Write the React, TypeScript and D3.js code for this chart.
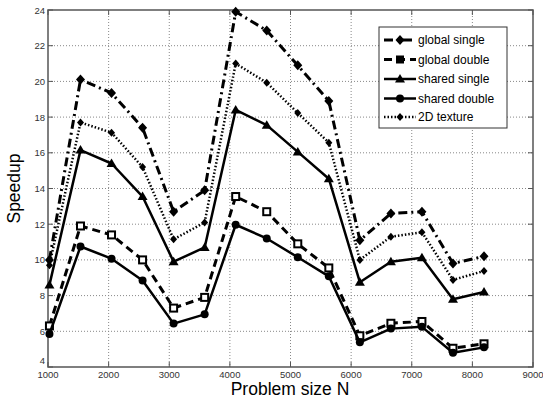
import React from "react";
import * as d3 from "d3";

const problemSizes = [1024, 1536, 2048, 2560, 3072, 3584, 4096, 4608, 5120, 5632, 6144, 6656, 7168, 7680, 8192];
const globalSingle = [10.0, 20.1, 19.35, 17.4, 12.7, 13.9, 23.9, 22.85, 20.9, 18.9, 11.1, 12.6, 12.7, 9.8, 10.2];
const globalDouble = [6.3, 11.9, 11.4, 10.0, 7.3, 7.9, 13.55, 12.7, 10.9, 9.55, 5.75, 6.45, 6.55, 5.05, 5.3];
const sharedSingle = [8.6, 16.15, 15.4, 13.55, 9.9, 10.7, 18.4, 17.55, 16.05, 14.55, 8.75, 9.9, 10.12, 7.8, 8.2];
const sharedDouble = [5.85, 10.75, 10.07, 8.85, 6.43, 6.95, 11.97, 11.2, 10.15, 9.08, 5.38, 6.15, 6.25, 4.8, 5.1];
const texture2D = [9.7, 17.7, 17.13, 15.2, 11.15, 12.1, 21.0, 19.93, 18.23, 16.57, 10.0, 11.3, 11.55, 8.88, 9.38];
const seriesNames = ["global single", "global double", "shared single", "shared double", "2D texture"];
const xTicks = [1000, 2000, 3000, 4000, 5000, 6000, 7000, 8000, 9000];
const yTicks = [4, 6, 8, 10, 12, 14, 16, 18, 20, 22, 24];

type Marker = "diamond" | "square" | "triangle" | "circle" | "star";
const styles: { dash: string; marker: Marker; width: number }[] = [
  { dash: "9,4,2,4", marker: "diamond", width: 3 },
  { dash: "8,5", marker: "square", width: 3 },
  { dash: "none", marker: "triangle", width: 2.5 },
  { dash: "none", marker: "circle", width: 2.5 },
  { dash: "1.5,2", marker: "star", width: 2.5 },
];

function MarkerShape({ type, x, y, legend }: { type: Marker; x: number; y: number; legend?: boolean }) {
  switch (type) {
    case "diamond":
      return <path d={`M${x},${y - 5}L${x + 4.5},${y}L${x},${y + 5}L${x - 4.5},${y}Z`} fill="#000" />;
    case "square":
      return legend ? (
        <rect x={x - 4} y={y - 4} width={8} height={8} fill="#000" />
      ) : (
        <rect x={x - 3.5} y={y - 3.5} width={7} height={7} fill="#fff" stroke="#000" strokeWidth={2} />
      );
    case "triangle":
      return <path d={`M${x},${y - 5}L${x + 5},${y + 3.5}L${x - 5},${y + 3.5}Z`} fill="#000" />;
    case "circle":
      return <circle cx={x} cy={y} r={4} fill="#000" />;
    case "star":
      return <path d={`M${x},${y - 4}L${x + 3.5},${y}L${x},${y + 4}L${x - 3.5},${y}Z`} fill="#000" />;
  }
}

export default function App() {
  const W = 543, H = 399;
  const left = 48, right = 533, top = 10, bottom = 367;
  const x = d3.scaleLinear().domain([1000, 9000]).range([left, right]);
  const y = d3.scaleLinear().domain([4, 24]).range([bottom, top]);
  const data = [globalSingle, globalDouble, sharedSingle, sharedDouble, texture2D];
  const line = d3.line<number>().x((_, i) => x(problemSizes[i])).y((d) => y(d));
  const font = "'Liberation Sans', Arial, sans-serif";
  const lgX = 379, lgY = 27, lgW = 128, lgH = 101;
  const rowYs = [40, 59.5, 79, 98.5, 117];

  return (
    <svg width={W} height={H} style={{ position: "absolute", left: 0, top: 0, background: "#fff" }}>
      {xTicks.slice(1, -1).map((t) => (
        <line key={"gx" + t} x1={x(t)} x2={x(t)} y1={top} y2={bottom} stroke="#888" strokeWidth={1} strokeDasharray="1,2" />
      ))}
      {yTicks.slice(1, -1).map((t) => (
        <line key={"gy" + t} x1={left} x2={right} y1={y(t)} y2={y(t)} stroke="#888" strokeWidth={1} strokeDasharray="1,2" />
      ))}
      <rect x={left} y={top} width={right - left} height={bottom - top} fill="none" stroke="#555" strokeWidth={1.5} />
      {xTicks.map((t) => (
        <g key={"tx" + t}>
          <line x1={x(t)} x2={x(t)} y1={bottom} y2={bottom - 5} stroke="#555" />
          <line x1={x(t)} x2={x(t)} y1={top} y2={top + 5} stroke="#555" />
          <text x={x(t)} y={bottom + 11} fontSize={9.5} fontFamily={font} textAnchor="middle" fill="#333">{t}</text>
        </g>
      ))}
      {yTicks.map((t) => (
        <g key={"ty" + t}>
          <line x1={left} x2={left + 5} y1={y(t)} y2={y(t)} stroke="#555" />
          <line x1={right} x2={right - 5} y1={y(t)} y2={y(t)} stroke="#555" />
          <text x={left - 3} y={y(t) - (t === 4 ? 3 : -3.5)} fontSize={9.5} fontFamily={font} textAnchor="end" fill="#333">{t}</text>
        </g>
      ))}
      {data.map((vals, si) => (
        <g key={"s" + si}>
          <path d={line(vals) || ""} fill="none" stroke="#000" strokeWidth={styles[si].width}
            strokeDasharray={styles[si].dash} strokeLinejoin="round" />
          {vals.map((v, i) => (
            <MarkerShape key={i} type={styles[si].marker} x={x(problemSizes[i])} y={y(v)} />
          ))}
        </g>
      ))}
      <text x={290} y={395} fontSize={17.5} fontFamily={font} textAnchor="middle" fill="#000">Problem size N</text>
      <text transform={`translate(20,${(top + bottom) / 2}) rotate(-90)`} fontSize={17.5} fontFamily={font} textAnchor="middle" fill="#000">Speedup</text>
      <rect x={lgX} y={lgY} width={lgW} height={lgH} fill="#fff" stroke="#333" strokeWidth={1} />
      {seriesNames.map((n, i) => (
        <g key={"l" + i}>
          <line x1={384} x2={416} y1={rowYs[i]} y2={rowYs[i]} stroke="#000" strokeWidth={styles[i].width}
            strokeDasharray={styles[i].dash === "none" ? undefined : styles[i].dash} />
          <MarkerShape type={styles[i].marker} x={400} y={rowYs[i]} legend />
          <text x={418} y={rowYs[i] + 4} fontSize={12} fontFamily={font} fill="#000">{n}</text>
        </g>
      ))}
    </svg>
  );
}
